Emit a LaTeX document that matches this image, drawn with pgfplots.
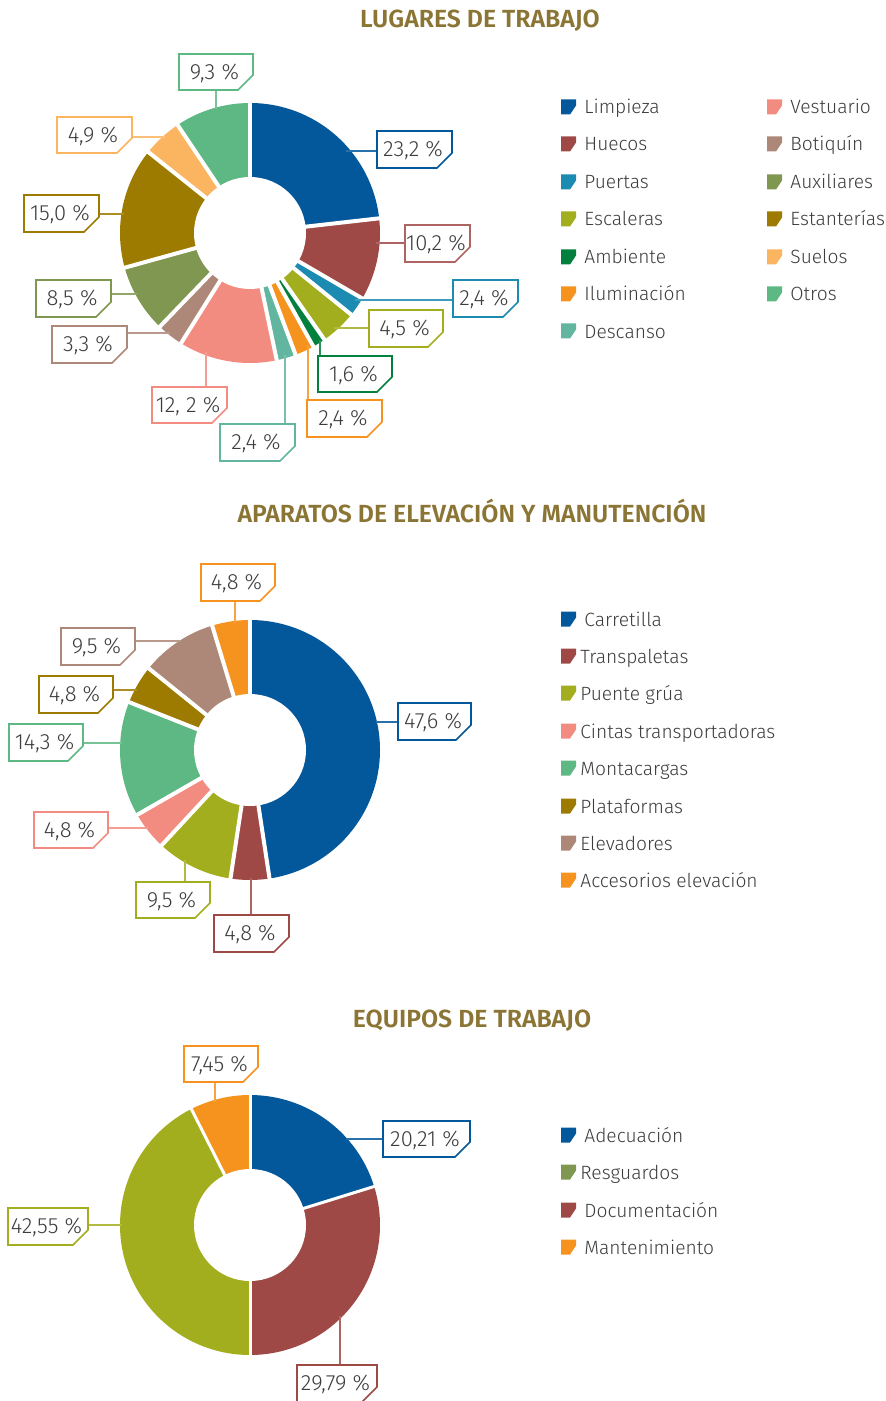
\documentclass[border=0pt]{standalone}
\usepackage{pgfplots}
\pgfplotsset{compat=1.18}
\usepackage{pgfplotstable}
\usepackage{fontspec}
\setmainfont{Fira Sans Light}[BoldFont={Fira Sans SemiBold}]

\definecolor{cA}{HTML}{03589C}
\definecolor{cB}{HTML}{9F4946}
\definecolor{cC}{HTML}{1B8BB1}
\definecolor{cD}{HTML}{A3AE1F}
\definecolor{cE}{HTML}{037F3E}
\definecolor{cF}{HTML}{F6931F}
\definecolor{cG}{HTML}{62B59F}
\definecolor{cH}{HTML}{F38C80}
\definecolor{cI}{HTML}{AD8777}
\definecolor{cJ}{HTML}{7F9750}
\definecolor{cK}{HTML}{9C7B00}
\definecolor{cL}{HTML}{FBB460}
\definecolor{cM}{HTML}{5EB883}
\definecolor{ttl}{HTML}{8B7535}
\definecolor{txt}{HTML}{3C3C3C}

\pgfplotstableread{
value color
23.2 cA
10.2 cB
2.4 cC
4.5 cD
1.6 cE
2.4 cF
2.4 cG
12.2 cH
3.3 cI
8.5 cJ
15.0 cK
4.9 cL
9.3 cM
}\tabLugares

\pgfplotstableread{
value color
47.6 cA
4.8 cB
9.5 cD
4.8 cH
14.3 cM
4.8 cK
9.5 cI
4.8 cF
}\tabAparatos

\pgfplotstableread{
value color
20.21 cA
29.79 cB
42.55 cD
7.45 cF
}\tabEquipos

\def\Ro{65pt}
\def\Ri{28pt}
\newcommand\txtfont{\fontsize{9.6}{11}\selectfont}
\newcommand\lblfont{\fontsize{11}{12}\selectfont}

% donut: table, cx, cy, gap width
\newcommand\donut[4]{%
  \pgfplotstablegetrowsof{#1}\pgfmathtruncatemacro\nr{\pgfplotsretval-1}%
  \gdef\sa{90}%
  \foreach \r in {0,...,\nr}{%
    \pgfplotstablegetelem{\r}{value}\of{#1}\let\val\pgfplotsretval
    \pgfplotstablegetelem{\r}{color}\of{#1}\let\col\pgfplotsretval
    \pgfmathsetmacro\ea{\sa-3.6*\val}%
    \fill[\col] (axis cs:#2,#3) -- ++(\sa:\Ro) arc[start angle=\sa,end angle=\ea,radius=\Ro] -- cycle;
    \xdef\sa{\ea}%
  }%
  \gdef\sa{90}%
  \foreach \r in {0,...,\nr}{%
    \pgfplotstablegetelem{\r}{value}\of{#1}\let\val\pgfplotsretval
    \draw[white,line width=#4] (axis cs:#2,#3) -- ++(\sa:\Ro+1pt);
    \pgfmathsetmacro\ea{\sa-3.6*\val}%
    \xdef\sa{\ea}%
  }%
  \fill[white] (axis cs:#2,#3) circle[radius=\Ri];
}
% label box: x1 y1 x2 y2 color text
\newcommand\lbl[6]{%
  \draw[#5, line width=0.8pt, fill=white] (axis cs:#1,#2) -- (axis cs:#3,#2) -- ([yshift=7.5pt]axis cs:#3,#4) -- ([xshift=-7.5pt]axis cs:#3,#4) -- (axis cs:#1,#4) -- cycle;
  \pgfmathsetmacro\mx{(#1+#3)/2-1.5}\pgfmathsetmacro\my{(#2+#4)/2+1}%
  \node[text=txt, font=\lblfont, inner sep=0pt] at (axis cs:\mx,\my) {#6};
}
% leader: color x1 y1 x2 y2
\newcommand\ld[5]{\draw[#1!85!white, line width=0.8pt] (axis cs:#2,#3) -- (axis cs:#4,#5);}
% legend: x ycenter color text textoffset
\newcommand\leg[5]{%
  \fill[#3] ([yshift=3.75pt]axis cs:#1,#2) -- ++(7.5pt,0) -- ++(0,-3pt) -- ++(-3pt,-4.5pt) -- ++(-4.5pt,0) -- cycle;
  \pgfmathsetmacro\lx{#1+#5}\pgfmathsetmacro\ly{#2+7}%
  \node[anchor=base west, text=txt, font=\txtfont, inner sep=0pt] at (axis cs:\lx,\ly) {#4};
}
\newcommand\ttlnode[3]{\node[text=ttl, font=\bfseries\fontsize{12.4}{14}\selectfont, inner sep=0pt] at (axis cs:#1,#2) {#3};}

\begin{document}
\begin{tikzpicture}
\begin{axis}[x=0.5pt, y=0.5pt, y dir=reverse, xmin=0, xmax=886, ymin=0, ymax=1401,
  hide axis, clip=false, anchor=south west, at={(0,0)}]
\pgfplotsextra{%
  % ---------- Chart 1 ----------
  \ttlnode{480}{21}{LUGARES DE TRABAJO}
  \donut{\tabLugares}{250}{233}{2pt}
  \ld{cM}{216}{90}{216}{109}
  \ld{cA}{346}{151}{378}{151}
  \ld{cB}{376}{243}{404}{243}
  \ld{cC}{355}{300}{453}{300}
  \ld{cD}{334}{328}{369}{328}
  \ld{cE}{320}{340}{320}{356}
  \ld{cF}{308}{346}{308}{400}
  \ld{cG}{285}{355}{285}{424}
  \ld{cH}{206}{352}{206}{387}
  \ld{cI}{127}{333}{170}{333}
  \ld{cJ}{111}{294}{137}{294}
  \ld{cK}{99}{214}{124}{214}
  \ld{cL}{132}{137}{165}{137}
  \lbl{179}{54}{253}{90}{cM}{9,3 \%}
  \lbl{377}{131}{452}{168}{cA}{23,2 \%}
  \lbl{405}{225}{470}{262}{cB!85!white}{10,2 \%}
  \lbl{453}{280}{518}{317}{cC}{2,4 \%}
  \lbl{369}{310}{443}{347}{cD}{4,5 \%}
  \lbl{318}{356}{392}{392}{cE}{1,6 \%}
  \lbl{307}{400}{382}{437}{cF}{2,4 \%}
  \lbl{220}{424}{295}{461}{cG}{2,4 \%}
  \lbl{152}{387}{227}{423}{cH}{12, 2 \%}
  \lbl{52}{326}{127}{363}{cI}{3,3 \%}
  \lbl{36}{280}{111}{317}{cJ}{8,5 \%}
  \lbl{24}{195}{99}{232}{cK}{15,0 \%}
  \lbl{57}{117}{132}{153}{cL}{4,9 \%}
  \leg{561}{107}{cA}{Limpieza}{23}
  \leg{561}{144}{cB}{Huecos}{23}
  \leg{561}{182}{cC}{Puertas}{23}
  \leg{561}{219}{cD}{Escaleras}{23}
  \leg{561}{257}{cE}{Ambiente}{23}
  \leg{561}{294}{cF}{Iluminación}{23}
  \leg{561}{331}{cG}{Descanso}{23}
  \leg{767}{107}{cH}{Vestuario}{23}
  \leg{767}{144}{cI}{Botiquín}{23}
  \leg{767}{182}{cJ}{Auxiliares}{23}
  \leg{767}{219}{cK}{Estanterías}{23}
  \leg{767}{257}{cL}{Suelos}{23}
  \leg{767}{294}{cM}{Otros}{23}
  % ---------- Chart 2 ----------
  \ttlnode{472}{511}{APARATOS DE ELEVACIÓN Y MANUTENCIÓN}
  \donut{\tabAparatos}{250}{750}{2pt}
  \ld{cA}{376}{722}{398}{722}
  \ld{cB}{251}{878}{251}{915}
  \ld{cD}{185}{860}{185}{882}
  \ld{cH}{108}{828}{148}{828}
  \ld{cM}{83}{743}{122}{743}
  \ld{cK}{113}{690}{137}{690}
  \ld{cI}{135}{641}{181}{641}
  \ld{cF}{235}{601}{235}{623}
  \lbl{398}{703}{471}{740}{cA}{47,6 \%}
  \lbl{214}{915}{289}{952}{cB}{4,8 \%}
  \lbl{136}{882}{210}{918}{cD}{9,5 \%}
  \lbl{34}{812}{108}{848}{cH}{4,8 \%}
  \lbl{9}{724}{83}{761}{cM}{14,3 \%}
  \lbl{39}{676}{113}{713}{cK}{4,8 \%}
  \lbl{61}{628}{135}{665}{cI}{9,5 \%}
  \lbl{201}{564}{275}{601}{cF}{4,8 \%}
  \leg{561}{619}{cA}{Carretilla}{23}
  \leg{561}{656}{cB}{Transpaletas}{19}
  \leg{561}{693}{cD}{Puente grúa}{19}
  \leg{561}{731}{cH}{Cintas transportadoras}{19}
  \leg{561}{768}{cM}{Montacargas}{19}
  \leg{561}{806}{cK}{Plataformas}{19}
  \leg{561}{843}{cI}{Elevadores}{19}
  \leg{561}{880}{cF}{Accesorios elevación}{19}
  % ---------- Chart 3 ----------
  \ttlnode{472}{1021}{EQUIPOS DE TRABAJO}
  \donut{\tabEquipos}{250}{1225}{1.5pt}
  \ld{cA}{346}{1139}{383}{1139}
  \ld{cB}{340}{1316}{340}{1365}
  \ld{cD}{88}{1225}{122}{1225}
  \ld{cF}{215}{1082}{215}{1102}
  \lbl{383}{1121}{470}{1157}{cA}{20,21 \%}
  \lbl{297}{1365}{377}{1402}{cB}{29,79 \%}
  \lbl{8}{1208}{88}{1245}{cD}{42,55 \%}
  \lbl{184}{1046}{258}{1082}{cF}{7,45 \%}
  \leg{561}{1135}{cA}{Adecuación}{23}
  \leg{561}{1172}{cJ}{Resguardos}{19}
  \leg{561}{1210}{cB}{Documentación}{23}
  \leg{561}{1247}{cF}{Mantenimiento}{23}
}
\end{axis}
\pgfresetboundingbox
\path (0,0) rectangle (443pt,700.5pt);
\end{tikzpicture}
\end{document}
